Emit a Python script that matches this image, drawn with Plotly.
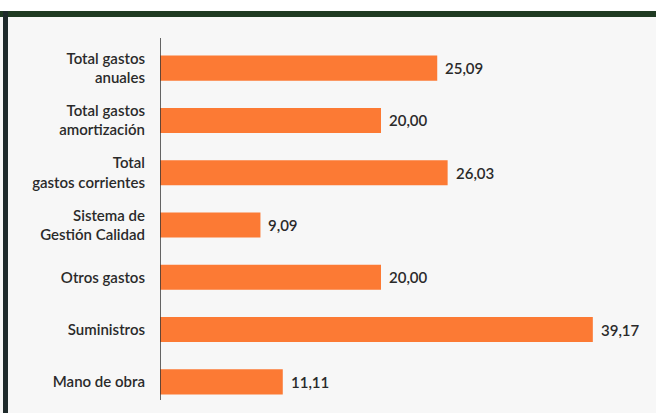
import plotly.graph_objects as go

categories = [
    "Total gastos<br>anuales",
    "Total gastos<br>amortización",
    "Total<br>gastos corrientes",
    "Sistema de<br>Gestión Calidad",
    "Otros gastos",
    "Suministros",
    "Mano de obra",
]
values = [25.09, 20.00, 26.03, 9.09, 20.00, 39.17, 11.11]
value_labels = ["25,09", "20,00", "26,03", "9,09", "20,00", "39,17", "11,11"]

W, H = 656, 413
L, R, T, B = 160, 16, 42, 5
plot_w = W - L - R
plot_h = H - T - B

def px_x(p):
    return (p - L) / plot_w

def px_y(p):
    return (H - B - p) / plot_h

FONT = "Lato"
TXT = "#2a2a2a"

fig = go.Figure()
fig.add_trace(go.Bar(
    x=values,
    y=categories,
    orientation="h",
    marker=dict(color="#FC7A34", line=dict(width=0)),
    hoverinfo="skip",
))

for v, lab, c in zip(values, value_labels, categories):
    fig.add_annotation(x=v, y=c, text=lab, showarrow=False, xanchor="left",
                       xshift=6, font=dict(family=FONT, size=15, color=TXT, weight=600))

shapes = [
    dict(type="rect", xref="paper", yref="paper", x0=px_x(-2), x1=px_x(W + 2),
         y0=px_y(11), y1=px_y(-2), fillcolor="#FFFFFF", line=dict(width=0), layer="below"),
    dict(type="rect", xref="paper", yref="paper", x0=px_x(-2), x1=px_x(W + 2),
         y0=px_y(17), y1=px_y(11), fillcolor="#1F3A22", line=dict(width=0)),
    dict(type="rect", xref="paper", yref="paper", x0=px_x(3), x1=px_x(8),
         y0=px_y(H + 2), y1=px_y(11), fillcolor="#1E2A2B", line=dict(width=0)),
    dict(type="line", xref="x", yref="paper", x0=0, x1=0,
         y0=px_y(400), y1=px_y(38), line=dict(color="#333333", width=1.5)),
]

fig.update_layout(
    width=W, height=H,
    margin=dict(l=L, r=R, t=T, b=B, pad=0),
    paper_bgcolor="#F7F7F7",
    plot_bgcolor="#F7F7F7",
    bargap=0.52,
    showlegend=False,
    shapes=shapes,
    xaxis=dict(range=[0, plot_w / 11.05], showgrid=False, zeroline=False,
               showticklabels=False, showline=False, fixedrange=True),
    yaxis=dict(autorange="reversed", showgrid=False, zeroline=False, showline=False,
               ticks="", ticklabelstandoff=14, fixedrange=True,
               tickfont=dict(family=FONT, size=15, color=TXT, weight=600)),
)

fig.write_html("out.html", config={"displayModeBar": False},
               post_script="document.body.style.margin='0';document.body.style.overflow='hidden';")
